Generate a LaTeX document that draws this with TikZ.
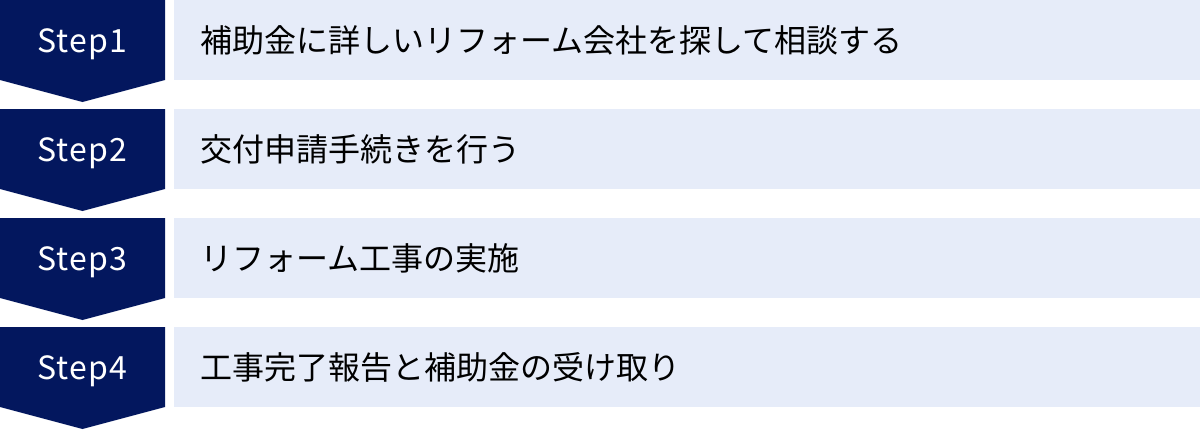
\documentclass[tikz,border=0pt]{standalone}
\usepackage{fontspec}
\setmainfont{Noto Sans CJK JP}
\newfontfamily\stepfont[LetterSpace=4]{Noto Sans CJK JP}
\definecolor{navy}{HTML}{03175E}
\definecolor{pale}{HTML}{E6ECF9}
\tikzset{
  steplabel/.style={text=white,inner sep=0pt,anchor=base,font=\stepfont\fontsize{32}{38}\selectfont},
  tasklabel/.style={text=black,inner sep=0pt,anchor=base west,font=\fontsize{32}{38}\selectfont}
}
\begin{document}
\begin{tikzpicture}[x=1pt,y=-1pt]
  \useasboundingbox (0,0) rectangle (1200,429);
  %rows
  \foreach \n/\txt [count=\i from 0] in {1/補助金に詳しいリフォーム会社を探して相談する,
      2/交付申請手続きを行う,
      3/リフォーム工事の実施,
      4/工事完了報告と補助金の受け取り}
  {
    \fill[navy] (0,109*\i) -- (165,109*\i) -- ++(0,80) -- ++(-82.5,22) -- ++(-82.5,-22) -- cycle;
    \fill[pale] (174,109*\i) rectangle ++(1026,80);
    \node[steplabel] (step\n) at (82.5,109*\i+52) {Step\n};
    \node[tasklabel] (task\n) at (200,109*\i+52) {\txt};
  }
\end{tikzpicture}
\end{document}
